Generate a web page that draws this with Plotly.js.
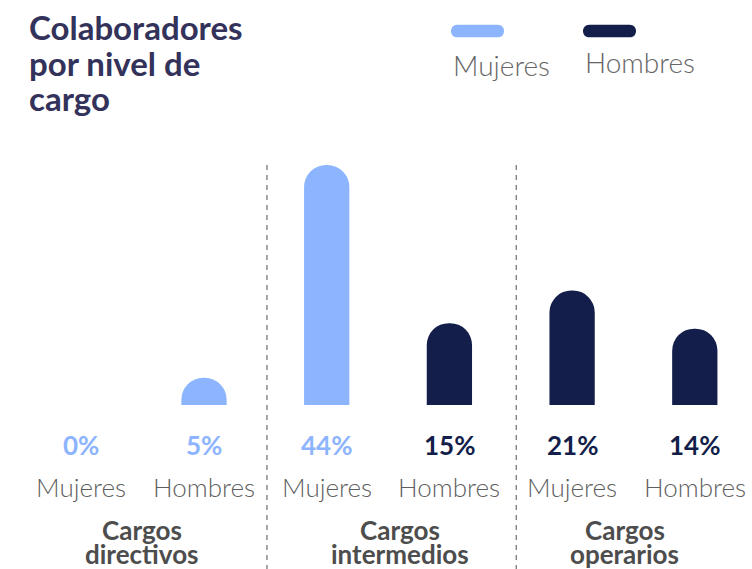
<!DOCTYPE html>
<html>
<head>
<meta charset="utf-8">
<script src="https://cdn.plot.ly/plotly-3.0.1.min.js"></script>
<style>
  html, body { margin: 0; padding: 0; background: #fff; }
  #chart { width: 752px; height: 569px; }
</style>
</head>
<body>
<div id="chart"></div>
<script>
// Colaboradores por nivel de cargo, bars with rounded tops

var titleLines = ['Colaboradores', 'por nivel de', 'cargo'];
var groups = ['Cargos directivos', 'Cargos intermedios', 'Cargos operarios'];
var genders = ['Mujeres', 'Hombres', 'Mujeres', 'Hombres', 'Mujeres', 'Hombres'];
var values = [0, 5, 44, 15, 21, 14];
var legendNames = ['Mujeres', 'Hombres'];

var W = 752, H = 569;
var LIGHT = '#8db4fe', DARK = '#131f4a';
var barColors = [LIGHT, LIGHT, LIGHT, DARK, DARK, DARK];

// pixel -> paper helpers (plot area fills the whole page)
function px(p) { return p / W; }
function py(p) { return 1 - p / H; }

var xs = values.map(function (v, i) { return i; });

var bars = {
    type: 'bar',
    x: xs,
    y: values,
    width: 0.369,
    marker: { color: barColors, cornerradius: '50%', line: { width: 0 } },
    hoverinfo: 'skip',
    showlegend: false
};

var annotations = [];

// title, one annotation per line to keep the tight line spacing
var titleY = [27, 63, 98];
titleLines.forEach(function (t, i) {
    annotations.push({
        x: px(27), xref: 'paper', y: py(titleY[i]), yref: 'paper',
        text: '<b>' + t + '</b>', showarrow: false,
        xanchor: 'left', yanchor: 'middle',
        font: { family: 'Lato', size: 33, color: '#33325a' }
    });
});

// percentages and gender labels under each bar
values.forEach(function (v, i) {
    annotations.push({
        x: i, xref: 'x', y: py(445), yref: 'paper',
        text: '<b>' + v + '%</b>', showarrow: false,
        xanchor: 'center', yanchor: 'middle',
        font: { family: 'Lato', size: 26, color: barColors[i] }
    });
    annotations.push({
        x: i, xref: 'x', y: py(487), yref: 'paper',
        text: genders[i], showarrow: false,
        xanchor: 'center', yanchor: 'middle',
        font: { family: 'Lato', size: 26, weight: 300, color: '#5f5f5f' }
    });
});

// group names, two lines each
var groupX = [0.495, 2.6, 4.43];
groups.forEach(function (g, i) {
    var parts = g.split(' ');
    annotations.push({
        x: groupX[i], xref: 'x', y: py(530), yref: 'paper',
        text: '<b>' + parts[0] + '</b>', showarrow: false,
        xanchor: 'center', yanchor: 'middle',
        font: { family: 'Lato', size: 26, color: '#4d4d4d' }
    });
    annotations.push({
        x: groupX[i], xref: 'x', y: py(554), yref: 'paper',
        text: '<b>' + parts.slice(1).join(' ') + '</b>', showarrow: false,
        xanchor: 'center', yanchor: 'middle',
        font: { family: 'Lato', size: 26, color: '#4d4d4d' }
    });
});

// legend built by hand: pill above each name
var legX = [451, 583];
var legTextY = [65, 62];
var legColors = [LIGHT, DARK];
var shapes = [];
legendNames.forEach(function (n, i) {
    annotations.push({
        x: px(legX[i]), xref: 'paper', y: py(legTextY[i]), yref: 'paper',
        text: n, showarrow: false, xanchor: 'left', yanchor: 'middle',
        font: { family: 'Lato', size: 28, weight: 300, color: '#666666' }
    });
    shapes.push({
        type: 'path', xref: 'paper', yref: 'paper',
        xsizemode: 'pixel', ysizemode: 'pixel',
        xanchor: px(legX[i]), yanchor: py(31),
        path: 'M 6.3,-6.3 H 46.7 C 55.1,-6.3 55.1,6.3 46.7,6.3 H 6.3 C -2.1,6.3 -2.1,-6.3 6.3,-6.3 Z',
        fillcolor: legColors[i], line: { width: 0 }
    });
});

// dashed separators between groups
[1.513, 3.545].forEach(function (x) {
    shapes.push({
        type: 'line', xref: 'x', yref: 'paper',
        x0: x, x1: x, y0: py(165), y1: 0,
        line: { color: '#777777', width: 1.3, dash: '5px,5px' }
    });
});

var layout = {
    width: W, height: H,
    margin: { l: 0, r: 0, t: 0, b: 0 },
    paper_bgcolor: '#ffffff',
    plot_bgcolor: '#ffffff',
    xaxis: {
        range: [-81.3 / 122.7, (W - 81.3) / 122.7],
        visible: false, fixedrange: true
    },
    yaxis: {
        range: [-164 / (240 / 44), 405 / (240 / 44)],
        visible: false, fixedrange: true
    },
    showlegend: false,
    annotations: annotations,
    shapes: shapes
};

Plotly.newPlot('chart', [bars], layout, { displayModeBar: false, staticPlot: true });
</script>
</body>
</html>
